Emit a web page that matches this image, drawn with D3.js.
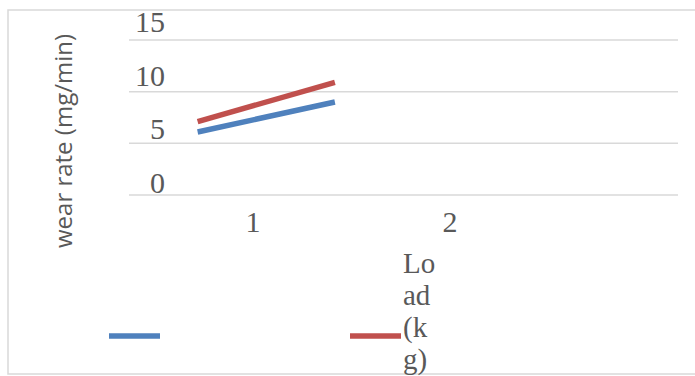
<!DOCTYPE html>
<html>
<head>
<meta charset="utf-8">
<script src="https://cdn.jsdelivr.net/npm/d3@7"></script>
<style>
  html, body { margin: 0; padding: 0; background: #fff; }
  svg { display: block; }
</style>
</head>
<body>
<svg id="chart" width="695" height="376"></svg>
<script>
// Wear rate data: two series over load categories
const categories = [1, 2];
const seriesNames = ["", "Load (kg)"];
const seriesColors = ["#4f81bd", "#c0504d"];
const blueValues = [6.1, 9.0];
const redValues = [7.1, 10.9];
const yTicks = [0, 5, 10, 15];
const legendLines = ["Lo", "ad", "(k", "g)"];

const svg = d3.select("#chart");

// Outer frame
svg.append("rect")
  .attr("x", 8).attr("y", 10)
  .attr("width", 700).attr("height", 364)
  .attr("fill", "none")
  .attr("stroke", "#d9d9d9")
  .attr("stroke-width", 1.5);

const plot = { left: 129, right: 678, top: 40, bottom: 195 };

const x = d3.scaleLinear().domain([0.5, 4.5]).range([plot.left, plot.right]);
const y = d3.scaleLinear().domain([0, 15]).range([plot.bottom, plot.top]);
// tick text sits a little off the gridlines
const yLabel = d3.scaleLinear().domain([0, 15]).range([193, 32]);
const xLabel = d3.scaleLinear().domain([1, 2]).range([253, 450]);

// Gridlines
svg.append("g")
  .selectAll("line")
  .data(yTicks)
  .join("line")
  .attr("x1", plot.left).attr("x2", plot.right)
  .attr("y1", d => y(d)).attr("y2", d => y(d))
  .attr("stroke", "#d9d9d9")
  .attr("stroke-width", 1.5);

// Y tick labels
svg.append("g")
  .selectAll("text")
  .data(yTicks)
  .join("text")
  .attr("x", 165)
  .attr("y", d => yLabel(d))
  .attr("text-anchor", "end")
  .attr("font-family", "'Liberation Serif', 'Times New Roman', serif")
  .attr("font-size", 30)
  .attr("fill", "#595959")
  .text(d => d);

// X tick labels
svg.append("g")
  .selectAll("text")
  .data(categories)
  .join("text")
  .attr("x", d => xLabel(d))
  .attr("y", 232)
  .attr("text-anchor", "middle")
  .attr("font-family", "'Liberation Serif', 'Times New Roman', serif")
  .attr("font-size", 30)
  .attr("fill", "#595959")
  .text(d => d);

// Y axis title
svg.append("text")
  .attr("transform", "translate(72,141) rotate(-90)")
  .attr("text-anchor", "middle")
  .attr("font-family", "'Open Sans', 'Liberation Sans', sans-serif")
  .attr("font-size", 24)
  .attr("fill", "#595959")
  .text("wear rate (mg/min)");

// Series lines
const line = d3.line().x((d, i) => x(categories[i])).y(d => y(d));
[blueValues, redValues].forEach((vals, k) => {
  svg.append("path")
    .datum(vals)
    .attr("d", line)
    .attr("fill", "none")
    .attr("stroke", seriesColors[k])
    .attr("stroke-width", 5.5)
    .attr("stroke-linecap", "butt");
});

// Legend
const legendX = [109, 350];
seriesNames.forEach((name, k) => {
  svg.append("line")
    .attr("x1", legendX[k]).attr("x2", legendX[k] + 51)
    .attr("y1", 336).attr("y2", 336)
    .attr("stroke", seriesColors[k])
    .attr("stroke-width", 5.5);
});
svg.append("g")
  .selectAll("text")
  .data(legendLines)
  .join("text")
  .attr("x", 403)
  .attr("y", (d, i) => 273 + i * 32)
  .attr("font-family", "'Liberation Serif', 'Times New Roman', serif")
  .attr("font-size", 29)
  .attr("fill", "#595959")
  .text(d => d);
</script>
</body>
</html>
